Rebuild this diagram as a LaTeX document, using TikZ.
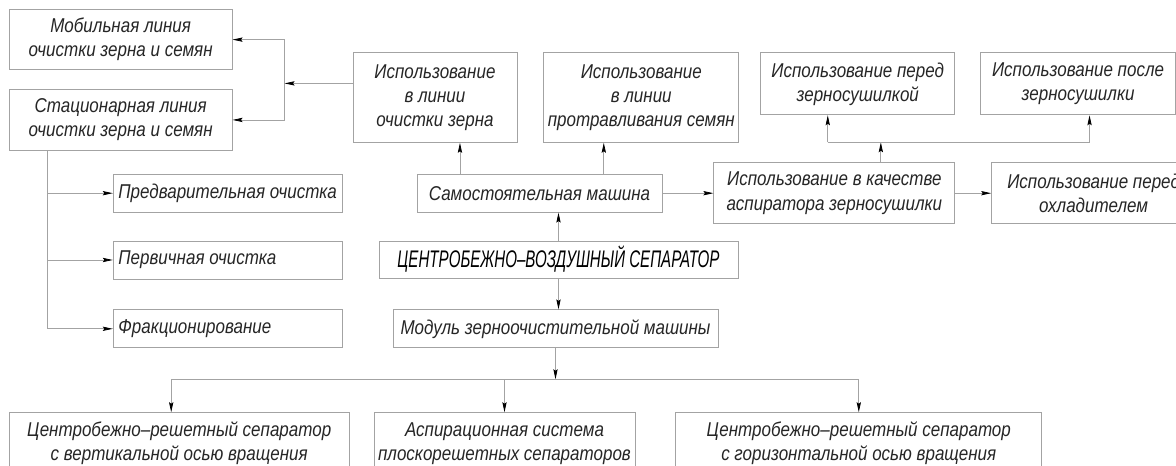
\documentclass[tikz,border=0pt]{standalone}
\usepackage{fontspec}
\setmainfont{Liberation Sans}[FakeStretch=0.85]
\newfontfamily\sepfont{Liberation Sans}[FakeStretch=0.63]
\usepackage{xcolor}
\usepackage{tikz}
\usetikzlibrary{arrows.meta, positioning}
\definecolor{lineg}{HTML}{A3A3A3}

\begin{document}
\begin{tikzpicture}[node distance=2cm,
        block/.style={draw=lineg, line width=0.6pt, rectangle, inner sep=2pt, align=center, text=black!85, font=\fontsize{15}{18}\selectfont\itshape},
        leftbox/.style={block, text width=164pt, inner xsep=3.875pt, minimum height=28.5pt, align=flush left},
        arr/.style={draw=lineg, line width=0.6pt, -{Stealth[length=7.5pt, width=3.2pt, inset=1.2pt, color=black]}},
        line/.style={draw=lineg, line width=0.6pt}]
        \path[use as bounding box, fill=white] (-418.875pt,-154.875pt) rectangle (463.125pt,194.625pt);

        % Separator
        \node[block, minimum width=269.25pt, minimum height=27.75pt, font=\sepfont\fontsize{18}{18}\selectfont\itshape, text=black] (sep) at (0,0) {ЦЕНТРОБЕЖНО–ВОЗДУШНЫЙ СЕПАРАТОР};

        % Standalone machine and module
        \node[block, minimum width=183.75pt, minimum height=28.5pt, above=21pt of sep, xshift=-14.25pt] (self) {Самостоятельная машина};
        \node[block, minimum width=243.75pt, minimum height=28.5pt, below=23.25pt of sep, xshift=-2.25pt] (mod) {Модуль зерноочистительной машины};

        % Lines
        \node[block, minimum width=123pt, minimum height=67.5pt, above=23.25pt of self, xshift=-78.4pt] (clean) {Использование\\в линии\\очистки зерна};
        \node[block, minimum width=146.25pt, minimum height=67.5pt, right=19.5pt of clean] (treat) {Использование\\в линии\\протравливания семян};
        \node[block, minimum width=167.25pt, minimum height=45.75pt, left=90pt of clean, yshift=-16.9pt] (stat) {Стационарная линия\\очистки зерна и семян};
        \node[block, minimum width=167.25pt, minimum height=45pt, above=14.25pt of stat] (mobile) {Мобильная линия\\очистки зерна и семян};

        % Cleaning stages
        \node[leftbox, left=55.5pt of self] (pre) {Предварительная очистка};
        \node[leftbox, below=21pt of pre] (prim) {Первичная очистка};
        \node[leftbox, below=22.5pt of prim] (frac) {Фракционирование};

        % Grain drier
        \node[block, minimum width=180.75pt, minimum height=45.75pt, right=38.25pt of self] (asp) {Использование в качестве\\аспиратора зерносушилки};
        \node[block, minimum width=153pt, minimum height=45.75pt, right=27pt of asp] (cool) {Использование перед\\охладителем};
        \node[block, minimum width=145.5pt, minimum height=46.5pt, above=35.25pt of asp, xshift=17.6pt] (before) {Использование перед\\зерносушилкой};
        \node[block, minimum width=146.25pt, minimum height=46.5pt, right=18.75pt of before] (after) {Использование после\\зерносушилки};

        % Module variants
        \node[block, minimum width=195.75pt, minimum height=46.5pt, below=48pt of mod, xshift=-38.25pt] (aspsys) {Аспирационная система\\плоскорешетных сепараторов};
        \node[block, minimum width=255pt, minimum height=46.5pt, left=18pt of aspsys] (vert) {Центробежно–решетный сепаратор\\с вертикальной осью вращения};
        \node[block, minimum width=274.5pt, minimum height=46.5pt, right=30pt of aspsys] (horiz) {Центробежно–решетный сепаратор\\с горизонтальной осью вращения};

        % Relationships
        \draw[arr] (sep.north) -- (sep.north |- self.south);
        \draw[arr] (sep.south) -- (sep.south |- mod.north);
        \draw[arr] (self.east) -- (asp.west);
        \draw[arr] (asp.east) -- (cool.west);

        \coordinate (c1) at ([xshift=18.75pt]clean.south);
        \coordinate (c2) at ([xshift=-28.1pt]treat.south);
        \draw[arr] (c1 |- self.north) -- (c1);
        \draw[arr] (c2 |- self.north) -- (c2);

        \coordinate (b0) at ([xshift=34.9pt, yshift=15pt]asp.north);
        \coordinate (e1) at ([xshift=-22.5pt]before.south);
        \coordinate (f1) at ([xshift=8.6pt]after.south);
        \draw[arr] (asp.north -| b0) -- (b0);
        \draw[line] (e1 |- b0) -- (f1 |- b0);
        \draw[arr] (e1 |- b0) -- (e1);
        \draw[arr] (f1 |- b0) -- (f1);

        \coordinate (k1) at ([xshift=39pt]mobile.east);
        \coordinate (k2) at ([xshift=39pt]stat.east);
        \coordinate (c0) at ([yshift=10.5pt]clean.west);
        \draw[line] (k1) -- (k2);
        \draw[arr] (c0) -- (c0 -| k1);
        \draw[arr] (k1) -- (mobile.east);
        \draw[arr] (k2) -- (stat.east);

        \coordinate (v0) at ([xshift=-55.1pt]stat.south);
        \draw[line] (v0) -- (v0 |- frac.west);
        \draw[arr] (v0 |- pre.west) -- (pre.west);
        \draw[arr] (v0 |- prim.west) -- (prim.west);
        \draw[arr] (v0 |- frac.west) -- (frac.west);

        \coordinate (m0) at ([yshift=-23.25pt]mod.south);
        \coordinate (n1) at ([xshift=-6pt]vert.north);
        \draw[arr] (mod.south) -- (m0);
        \draw[line] (n1 |- m0) -- (horiz.north |- m0);
        \draw[arr] (n1 |- m0) -- (n1);
        \draw[arr] (aspsys.north |- m0) -- (aspsys.north);
        \draw[arr] (horiz.north |- m0) -- (horiz.north);
    \end{tikzpicture}
\end{document}
